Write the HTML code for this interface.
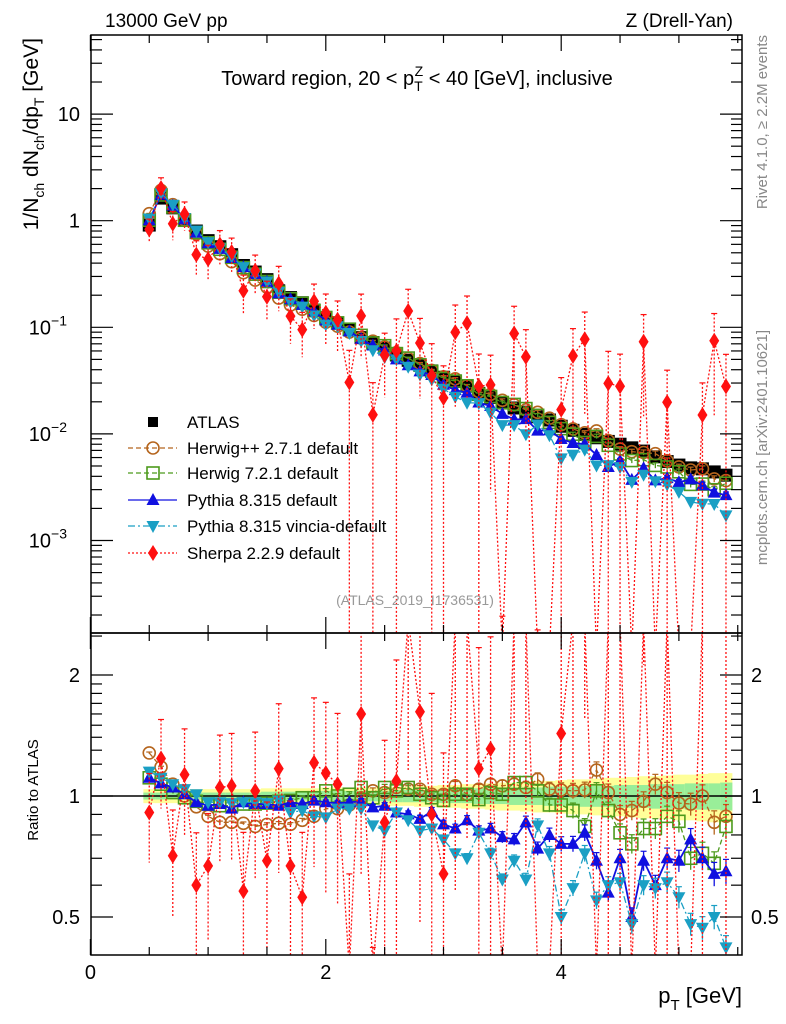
<!DOCTYPE html>
<html><head><meta charset="utf-8"><style>
html,body{margin:0;padding:0;background:#fff;overflow:hidden;width:786px;height:1024px;}
svg{display:block;font-family:"Liberation Sans",Arial,sans-serif;}
</style></head><body>
<svg id="chart" width="786" height="1024" viewBox="0 0 786 1024" xmlns="http://www.w3.org/2000/svg">
<defs>
<clipPath id="cpMain"><rect x="91" y="35" width="651" height="598"/></clipPath>
<clipPath id="cpRatio"><rect x="91" y="633" width="651" height="322"/></clipPath>
</defs>
<g id="bands" clip-path="url(#cpRatio)"></g>
<g id="ratioG" clip-path="url(#cpRatio)"></g>
<g id="mainG" clip-path="url(#cpMain)"></g>
<g id="axes"></g>
<rect x="91" y="35" width="651" height="598" fill="none" stroke="#000" stroke-width="1.5"/>
<rect x="91" y="633" width="651" height="322" fill="none" stroke="#000" stroke-width="1.5"/>
<text x="105" y="27" font-size="19">13000 GeV pp</text>
<text x="733" y="27" font-size="19" text-anchor="end">Z (Drell-Yan)</text>
<text x="417" y="85" font-size="20" text-anchor="middle">Toward region, 20 &lt; p<tspan font-size="14" dy="6">T</tspan><tspan font-size="14" dx="-8" dy="-15">Z</tspan><tspan dy="9"> &lt; 40 [GeV], inclusive</tspan></text>
<text transform="translate(38,38) rotate(-90)" font-size="21" text-anchor="end">1/N<tspan font-size="14" dy="6">ch</tspan><tspan dy="-6"> dN</tspan><tspan font-size="14" dy="6">ch</tspan><tspan dy="-6">/dp</tspan><tspan font-size="14" dy="6">T</tspan><tspan dy="-6"> [GeV]</tspan></text>
<text transform="translate(38,790) rotate(-90)" font-size="15" text-anchor="middle">Ratio to ATLAS</text>
<text transform="translate(767,35) rotate(-90)" font-size="15" text-anchor="end" fill="#888">Rivet 4.1.0, ≥ 2.2M events</text>
<text transform="translate(767,330) rotate(-90)" font-size="15" text-anchor="end" fill="#888">mcplots.cern.ch [arXiv:2401.10621]</text>
<text x="415" y="605" font-size="14" text-anchor="middle" fill="#999">(ATLAS_2019_I1736531)</text>
<text x="742" y="1003" font-size="22" text-anchor="end">p<tspan font-size="15" dy="7">T</tspan><tspan dy="-7"> [GeV]</tspan></text>
<g id="legend"></g>
</svg>
<script>
const xVals = [0.5,0.6,0.7,0.8,0.9,1.0,1.1,1.2,1.3,1.4,1.5,1.6,1.7,1.8,1.9,2.0,2.1,2.2,2.3,2.4,2.5,2.6,2.7,2.8,2.9,3.0,3.1,3.2,3.3,3.4,3.5,3.6,3.7,3.8,3.9,4.0,4.1,4.2,4.3,4.4,4.5,4.6,4.7,4.8,4.9,5.0,5.1,5.2,5.3,5.4];
const atlas = [0.91,1.63,1.32,1.02,0.80,0.65,0.57,0.48,0.38,0.33,0.28,0.22,0.19,0.17,0.145,0.12,0.11,0.095,0.08,0.072,0.064,0.055,0.049,0.044,0.039,0.034,0.031,0.028,0.024,0.022,0.0195,0.0175,0.016,0.0145,0.0135,0.0118,0.0108,0.0099,0.0092,0.0085,0.008,0.0074,0.0069,0.0061,0.0055,0.0051,0.0048,0.0047,0.0044,0.0041];
const atlasTotErr = [0.04,0.04,0.04,0.04,0.04,0.04,0.04,0.04,0.04,0.04,0.045,0.045,0.045,0.045,0.045,0.05,0.05,0.05,0.05,0.05,0.055,0.055,0.055,0.06,0.06,0.065,0.065,0.07,0.07,0.075,0.08,0.08,0.085,0.09,0.09,0.095,0.10,0.10,0.105,0.11,0.11,0.115,0.12,0.12,0.125,0.13,0.13,0.135,0.14,0.14];
const atlasStatErr = [0.02,0.02,0.02,0.02,0.02,0.02,0.02,0.02,0.02,0.02,0.025,0.025,0.025,0.025,0.025,0.03,0.03,0.03,0.03,0.03,0.03,0.035,0.035,0.035,0.035,0.04,0.04,0.04,0.045,0.045,0.045,0.05,0.05,0.05,0.055,0.055,0.055,0.06,0.06,0.06,0.065,0.065,0.065,0.07,0.07,0.07,0.075,0.075,0.075,0.08];
const herwigppRatio = [1.28,1.18,1.07,1.0,0.94,0.89,0.86,0.86,0.855,0.84,0.85,0.855,0.85,0.87,0.89,0.93,0.93,0.95,0.99,1.03,1.02,1.05,1.04,1.04,1.01,1.01,1.06,1.01,1.04,1.07,1.06,1.07,1.05,1.10,1.04,1.035,1.03,1.035,1.16,1.02,0.90,0.92,0.97,1.07,1.02,0.96,0.955,1.0,0.86,0.89];
const herwig7Ratio = [1.11,1.07,1.02,0.99,0.97,0.955,0.946,0.946,0.955,0.955,0.96,0.97,0.975,0.99,0.99,1.03,1.0,1.01,1.05,0.99,1.05,1.03,1.05,1.01,0.99,0.975,1.01,1.01,0.98,1.02,1.01,1.08,1.08,1.03,0.95,0.95,0.92,0.84,1.03,0.92,0.81,0.76,0.83,0.83,0.89,0.865,0.70,0.72,0.68,0.84];
const pythiaRatio = [1.11,1.075,1.05,1.01,0.965,0.946,0.955,0.93,0.965,0.955,0.955,0.946,0.965,0.955,0.974,0.965,0.96,0.965,0.97,0.937,0.946,0.91,0.90,0.877,0.916,0.85,0.83,0.87,0.82,0.83,0.79,0.78,0.86,0.74,0.80,0.76,0.76,0.81,0.69,0.575,0.70,0.50,0.69,0.60,0.70,0.69,0.78,0.70,0.64,0.65];
const vinciaRatio = [1.15,1.11,1.07,1.04,1.01,0.965,0.965,0.96,0.965,0.965,0.96,0.974,0.91,0.92,0.89,0.885,0.93,0.93,0.93,0.845,0.82,0.91,0.87,0.82,0.83,0.78,0.72,0.70,0.81,0.72,0.62,0.69,0.62,0.845,0.72,0.50,0.59,0.72,0.55,0.60,0.61,0.48,0.60,0.59,0.61,0.56,0.48,0.47,0.50,0.42];
const sherpaRatio = [0.91,1.24,0.71,1.13,0.60,0.67,1.05,1.06,0.58,1.03,0.69,1.17,0.67,0.56,1.21,1.14,1.07,0.32,1.60,0.21,0.86,1.09,2.9,1.62,0.9,0.64,2.9,3.9,1.17,1.31,0.005,5.0,3.3,0.005,0.005,1.43,5.0,7.8,0.005,3.5,3.5,0.005,10.6,0.005,3.6,0.005,0.005,3.2,17,6.8];
const mcRelErr = [0.005,0.005,0.005,0.005,0.006,0.006,0.007,0.007,0.008,0.008,0.009,0.01,0.01,0.011,0.012,0.013,0.014,0.015,0.016,0.017,0.018,0.019,0.02,0.021,0.022,0.024,0.025,0.027,0.028,0.03,0.032,0.034,0.036,0.038,0.04,0.042,0.044,0.046,0.048,0.05,0.052,0.054,0.056,0.058,0.06,0.062,0.064,0.066,0.068,0.07];
const sherpaRelErr = [0.25,0.25,0.3,0.3,0.35,0.35,0.35,0.35,0.4,0.4,0.4,0.45,0.45,0.45,0.45,0.5,0.5,1,0.6,1,0.6,1,0.6,0.7,1,1,0.8,0.8,1,0.9,1,0.8,0.8,1,1,1,0.8,0.8,1,1,1,1,0.8,1,1,1,1,1,0.8,1];
const mainYTicks = ["10","1","10^-1","10^-2","10^-3"];
const mainYTickVals = [10,1,0.1,0.01,0.001];
const ratioTickLabels = ["2","1","0.5"];
const ratioTickVals = [2,1,0.5];
const xTickLabels = ["0","2","4"];
const xTickVals = [0,2,4];

const NS="http://www.w3.org/2000/svg";
const X=v=>90.4+117.7*v;
const YM=v=>220.7-106.6*Math.log10(v);
const YR=r=>796-121*Math.log2(r);
function mk(tag,attrs,parent){const e=document.createElementNS(NS,tag);for(const k in attrs)e.setAttribute(k,attrs[k]);parent.appendChild(e);return e;}
const mainG=document.getElementById('mainG'),ratioG=document.getElementById('ratioG'),bandsG=document.getElementById('bands'),axesG=document.getElementById('axes'),legG=document.getElementById('legend');
const clampM=y=>Math.max(20,Math.min(650,y));
const clampR=y=>Math.max(620,Math.min(970,y));

xVals.forEach((x,i)=>{
  const x0=X(x-0.05),w=117.7*0.1+0.5;
  let r=mk('rect',{x:x0,y:YR(1+atlasTotErr[i]),width:w,height:YR(1-atlasTotErr[i])-YR(1+atlasTotErr[i]),fill:'#ffff99'},bandsG);
  
  
  let g=mk('rect',{x:x0,y:YR(1+atlasStatErr[i]),width:w,height:YR(1-atlasStatErr[i])-YR(1+atlasStatErr[i]),fill:'#99ee99'},bandsG);
  
  
});
let unity=mk('line',{x1:91,x2:742,y1:YR(1),y2:YR(1),stroke:'#000','stroke-width':1.5},bandsG);



function marker(type,cx,cy,color,parent){
  let e;
  if(type==='sqf') e=mk('rect',{x:cx-6.5,y:cy-6.5,width:13,height:13,fill:color},parent);
  else if(type==='sqo') e=mk('rect',{x:cx-6,y:cy-6,width:12,height:12,fill:'none',stroke:color,'stroke-width':1.6},parent);
  else if(type==='circ') e=mk('circle',{cx:cx,cy:cy,r:6,fill:'none',stroke:color,'stroke-width':1.6},parent);
  else if(type==='up') e=mk('polygon',{points:`${cx-6.5},${cy+5} ${cx+6.5},${cy+5} ${cx},${cy-7}`,fill:color},parent);
  else if(type==='dn') e=mk('polygon',{points:`${cx-6.5},${cy-5} ${cx+6.5},${cy-5} ${cx},${cy+7}`,fill:color},parent);
  else if(type==='dia') e=mk('polygon',{points:`${cx},${cy-8} ${cx+5},${cy} ${cx},${cy+8} ${cx-5},${cy}`,fill:color},parent);
  return e;
}
const series=[
 {name:'herwigpp',ratio:herwigppRatio,err:mcRelErr,color:'#b5651d',dash:'5,3',mk:'circ'},
 {name:'herwig7',ratio:herwig7Ratio,err:mcRelErr,color:'#4c9a1c',dash:'5,3',mk:'sqo'},
 {name:'pythia',ratio:pythiaRatio,err:mcRelErr,color:'#1010e0',dash:'',mk:'up'},
 {name:'vincia',ratio:vinciaRatio,err:mcRelErr,color:'#1a9fc4',dash:'7,3,2,3',mk:'dn'},
 {name:'sherpa',ratio:sherpaRatio,err:sherpaRelErr,color:'#ff1010',dash:'2,2',mk:'dia'}
];

xVals.forEach((x,i)=>{
  const m=marker('sqf',X(x),YM(atlas[i]),'#000',mainG);
  
  
});
series.forEach(s=>{
  const sw=s.name==='pythia'?1.8:1.3;
  ['main','ratio'].forEach(panel=>{
    const par=panel==='main'?mainG:ratioG;
    const cl=panel==='main'?clampM:clampR;
    const f=panel==='main'?YM:YR;
    const grp=mk('g',{},par);
    
    
    const ys=xVals.map((x,i)=>{const r=s.ratio[i];return cl(panel==='main'?YM(r*atlas[i]):YR(r));});
    const pl=mk('polyline',{points:xVals.map((x,i)=>X(x)+','+ys[i]).join(' '),fill:'none',stroke:s.color,'stroke-width':sw,'stroke-dasharray':s.dash},grp);
    
    
    xVals.forEach((x,i)=>{
      const r=s.ratio[i],e=s.err[i];
      const base=panel==='main'?r*atlas[i]:r;
      const hi=cl(f(base*(1+e))), lo=e>=1?cl(2000):cl(f(base*(1-e)));
      const eb=mk('line',{x1:X(x),x2:X(x),y1:hi,y2:lo,stroke:s.color,'stroke-width':1.3,'stroke-dasharray':s.name==='sherpa'?'2,2':''},grp);
      
      
      const cap=mk('line',{x1:X(x)-3,x2:X(x)+3,y1:hi,y2:hi,stroke:s.color,'stroke-width':1.2},grp);
      
      
      const m=marker(s.mk,X(x),cl(f(base)),s.color,grp);
      
      
    });
  });
});

function tick(x1,y1,x2,y2){const t=mk('line',{x1,y1,x2,y2,stroke:'#000','stroke-width':1.2},axesG);}
for(let v=0;v<=5.5;v+=0.5){
  const maj=Math.abs(v%2)<1e-6, L=maj?16:8, x=X(v);
  tick(x,955,x,955-L);tick(x,633,x,633+L);tick(x,633,x,633-L);tick(x,35,x,35+L);
}
for(let d=-4;d<=1;d++){for(let k=1;k<=9;k++){const v=k*Math.pow(10,d);const y=YM(v);if(y<35||y>633)continue;const L=k===1?22:11;tick(91,y,91+L,y);tick(742,y,742-L,y);}}
[0.4,0.5,0.6,0.7,0.8,0.9,1,1.1,1.2,1.3,1.4,1.5,1.6,1.7,1.8,1.9,2,2.5].forEach(v=>{const y=YR(v);if(y<633||y>955)return;const L=(v===0.5||v===1||v===2)?22:11;tick(91,y,91+L,y);tick(742,y,742-L,y);});
mainYTicks.forEach((lab,i)=>{
  const y=YM(mainYTickVals[i]);
  const t=mk('text',{x:80,y:y+7,'font-size':20,'text-anchor':'end'},axesG);
  if(lab.indexOf('^')>0){const p=lab.split('^');t.setAttribute('x',67);t.textContent=p[0];const s=mk('tspan',{'font-size':14,dy:-9},t);s.textContent=p[1].replace('-','\u2212');}
  else t.textContent=lab;
  
  
});
ratioTickLabels.forEach((lab,i)=>{
  const y=YR(ratioTickVals[i]);
  const t=mk('text',{x:80,y:y+7,'font-size':20,'text-anchor':'end'},axesG);t.textContent=lab;
  
  
  const t2=mk('text',{x:751,y:y+7,'font-size':20},axesG);t2.textContent=lab;
  
  
});
xTickLabels.forEach((lab,i)=>{
  const t=mk('text',{x:X(xTickVals[i]),y:979,'font-size':20,'text-anchor':'middle'},axesG);t.textContent=lab;
  
  
});

const legNames=['ATLAS','Herwig++ 2.7.1 default','Herwig 7.2.1 default','Pythia 8.315 default','Pythia 8.315 vincia-default','Sherpa 2.2.9 default'];
const legY=[422,448,473,500,526,553];
legNames.forEach((n,i)=>{
  const g=mk('g',{},legG);
  
  
  if(i===0){mk('rect',{x:148,y:legY[i]-5,width:10,height:10,fill:'#000'},g);}
  else{const s=series[i-1];mk('line',{x1:128,x2:177,y1:legY[i],y2:legY[i],stroke:s.color,'stroke-width':1.3,'stroke-dasharray':s.dash},g);marker(s.mk,153,legY[i],s.color,g);}
  const t=mk('text',{x:187,y:legY[i]+6,'font-size':17},g);t.textContent=n;
});
</script>
</body></html>
